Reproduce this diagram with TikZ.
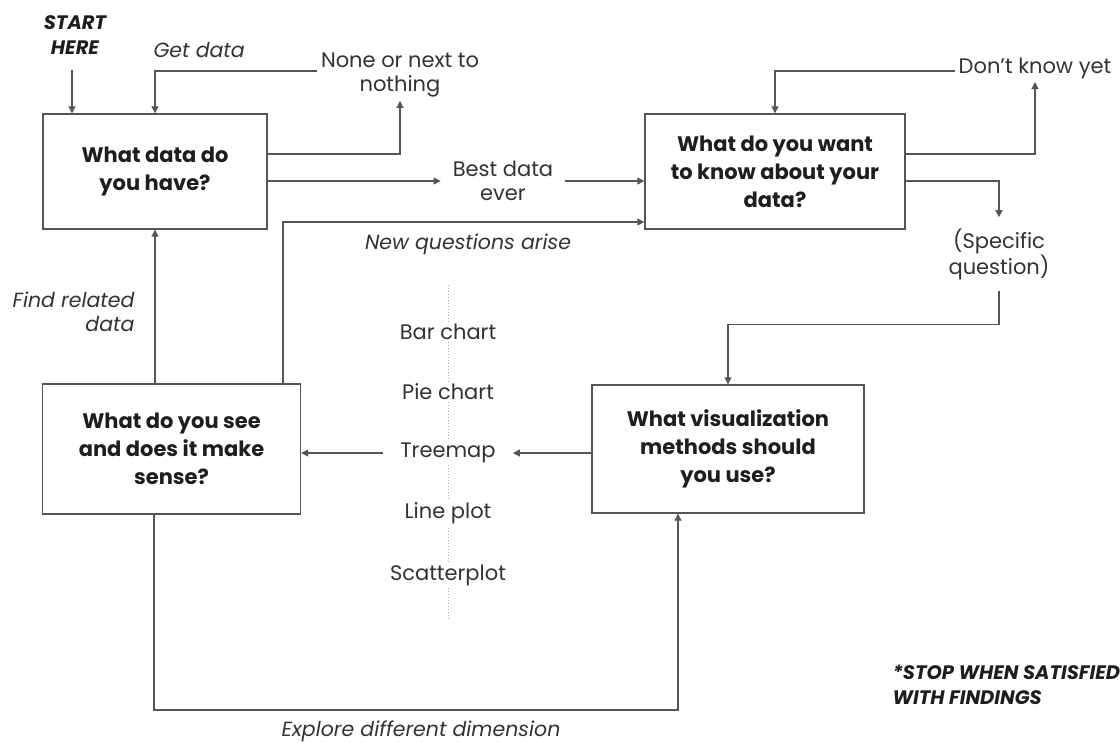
\documentclass[tikz,border=0pt]{standalone}
\usepackage{fontspec}
\setmainfont{Poppins}
\usetikzlibrary{arrows.meta, positioning}
\definecolor{ink}{HTML}{1E1E1E}
\definecolor{inksoft}{HTML}{333333}
\definecolor{wire}{HTML}{555555}
\definecolor{dotgray}{HTML}{AAAAAA}

\begin{document}
\begin{tikzpicture}[x=1pt, y=-1pt,
  qbox/.style={draw=wire, line width=1.4pt, fill=white, align=center, text=ink,
               font=\fontsize{21}{28}\selectfont\bfseries},
  lbl/.style={align=center, text=inksoft, font=\fontsize{21}{24.5}\selectfont},
  ilbl/.style={lbl, font=\fontsize{20.5}{24.5}\selectfont\itshape},
  note/.style={align=left, text=ink, font=\fontsize{19.5}{25}\selectfont\bfseries\itshape},
  arr/.style={-{Triangle[length=7pt, width=7pt]}, line width=1.2pt, color=wire}
]
\path[use as bounding box, fill=white] (0,0) rectangle (1120,743);

% the four questions
\node[qbox, minimum width=224pt, minimum height=115pt] (have) at (155,171.5) {What data do\\you have?};
\node[qbox, minimum width=260pt, minimum height=115pt] (want) at (775,171.5) {What do you want\\to know about your\\data?};
\node[qbox, minimum width=258pt, minimum height=130pt] (see)  at (171.5,449) {What do you see\\and does it make\\sense?};
\node[qbox, minimum width=272pt, minimum height=128pt] (vis)  at (728,449) {What visualization\\methods should\\you use?};

% labels
\node[note, align=center] (start) at (75,35) {START\\HERE};
\node[ilbl, anchor=west] (get) at (150,50) {Get data};
\node[lbl] (none) at (400,75) {None or next to\\nothing};
\node[lbl, inner xsep=12pt] (best) at (503,181) {Best data\\ever};
\node[lbl] (dunno) at (1035,68) {Don't know yet};
\node[lbl, inner ysep=11pt] (spec) at (999,254) {(Specific\\question)};
\node[ilbl] (newq) at (468,244) {New questions arise};
\node[ilbl, align=right, anchor=east] (related) at (138,312) {Find related\\data};
\node[ilbl] (explore) at (421,731) {Explore different dimension};
\node[note, anchor=west] (stop) at (889,685) {*STOP WHEN SATISFIED\\WITH FINDINGS};

% chart types
\draw[dotgray, line width=1pt, dash pattern=on 1pt off 2pt] (448,285) -- (448,620);
\foreach \m/\yy/\nm in {Bar chart/332/bar, Pie chart/392/pie, Treemap/453/tree, Line plot/513/line, Scatterplot/575/scatter}
  \node[lbl, fill=white, inner xsep=17pt, inner ysep=2pt] (\nm) at (448,\yy) {\m};

% connectors
\coordinate (s0) at (72,70);
\draw[arr] (s0) -- (s0 |- have.north);
\draw[arr] ([yshift=4pt]none.west) -| (have.north);
\draw[arr] ([yshift=17.5pt]have.east) -| (none.south);
\draw[arr] (have.east |- best.west) -- (best.west);
\draw[arr] (best.east) -- (best.east -| want.west);
\draw[arr] ([yshift=17.5pt]want.east) -| (dunno.south);
\draw[arr] ([yshift=-3pt]dunno.west) -| (want.north);
\draw[arr] ([yshift=-9.5pt]want.east) -| (spec.north);
\draw[arr] (spec.south) -- ++(0,34) -| (vis.north);
\draw[arr] (vis.west |- tree) -- (tree.east);
\draw[arr] (tree.west) -- (tree.west -| see.east);
\draw[arr] (have.south |- see.north) -- (have.south);
\coordinate (nq) at (283,222);
\draw[arr] (nq |- see.north) -- (nq) -- (nq -| want.west);
\coordinate (exl) at (154,710);
\coordinate (exr) at (678,710);
\draw[arr] (exl |- see.south) -- (exl) -- (exr) -- (exr |- vis.south);
\end{tikzpicture}
\end{document}
